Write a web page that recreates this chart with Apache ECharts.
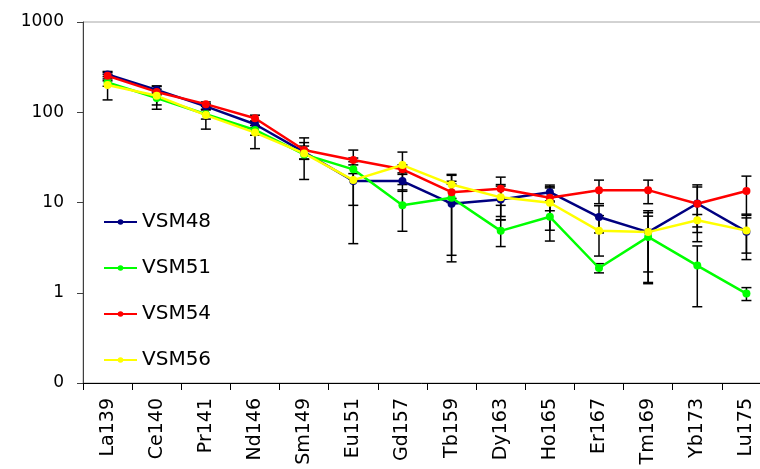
<!DOCTYPE html>
<html>
<head>
<meta charset="utf-8">
<script src="https://cdn.jsdelivr.net/npm/echarts@6/dist/echarts.min.js"></script>
<style>
  html, body { margin: 0; padding: 0; background: #fff; }
  #chart { width: 760px; height: 469px; }
</style>
</head>
<body>
<div id="chart"></div>
<script>
// Isotopes along the x axis
const categories = ['La139', 'Ce140', 'Pr141', 'Nd146', 'Sm149', 'Eu151', 'Gd157',
                    'Tb159', 'Dy163', 'Ho165', 'Er167', 'Tm169', 'Yb173', 'Lu175'];

// Mean values per sample
const vsm48 = [262, 177, 116, 73.6, 36.2, 17.3, 17.3, 9.7, 10.8, 13.0, 6.9, 4.7, 9.75, 4.75];
const vsm51 = [214, 144, 95, 63.6, 34.1, 23.3, 9.3, 11.3, 4.85, 6.94, 1.88, 4.16, 2.0, 0.98];
const vsm54 = [253, 168, 123, 85.8, 38.1, 29.5, 23.3, 13.0, 14.2, 11.3, 13.7, 13.7, 9.68, 13.4];
const vsm56 = [200, 152, 93, 59.5, 35.0, 17.7, 26.0, 15.8, 11.4, 9.93, 4.85, 4.7, 6.36, 4.88];

// Standard deviations (symmetric error bars)
const vsm48Err = [14, 16, 8, 6, 6, 13.8, 4, 7.5, 4.4, 2.6, 2.3, 3.4, 5.1, 2.0];
const vsm51Err = [20, 23.5, 11, 8, 4, 5, 4.5, 8.7, 1.6, 3.2, 0.22, 2.9, 1.3, 0.16];
const vsm54Err = [30, 12, 7, 7, 8, 8.6, 2.8, 3, 4.9, 3.2, 4, 4, 6.0, 6.2];
const vsm56Err = [63, 44, 28, 20, 17, 8.4, 10.2, 4.7, 4.4, 5, 2.3, 3.0, 1.0, 2.55];

// Value-axis tick labels (log scale 0.1 .. 1000)
const yTickLabels = { 0.1: '0', 1: '1', 10: '10', 100: '100', 1000: '1000' };

const sampleNames = ['VSM48', 'VSM51', 'VSM54', 'VSM56'];
const sampleValues = [vsm48, vsm51, vsm54, vsm56];
const sampleErrors = [vsm48Err, vsm51Err, vsm54Err, vsm56Err];
const sampleColors = ['#000080', '#00ff00', '#ff0000', '#ffff00'];

const FONT = 'DejaVu Sans';
const Y_MIN = 0.1;

function renderErrorBar(params, api) {
  const i = api.value(0);
  const v = api.value(1);
  const e = api.value(2);
  const hiVal = v + e;
  const loVal = v - e;
  const clamped = loVal <= Y_MIN;
  const hi = api.coord([i, hiVal]);
  const lo = api.coord([i, clamped ? Y_MIN : loVal]);
  const half = 5;
  const style = { stroke: '#000', lineWidth: 1.5 };
  const children = [
    { type: 'line', shape: { x1: hi[0], y1: hi[1], x2: lo[0], y2: lo[1] }, style: style },
    { type: 'line', shape: { x1: hi[0] - half, y1: hi[1], x2: hi[0] + half, y2: hi[1] }, style: style }
  ];
  if (!clamped) {
    children.push({ type: 'line', shape: { x1: lo[0] - half, y1: lo[1], x2: lo[0] + half, y2: lo[1] }, style: style });
  }
  return { type: 'group', children: children };
}

const series = [];
sampleNames.forEach(function (name, k) {
  series.push({
    name: name + ' SD',
    type: 'custom',
    z: 1,
    silent: true,
    renderItem: renderErrorBar,
    encode: { x: 0, y: 1 },
    data: categories.map(function (c, i) { return [i, sampleValues[k][i], sampleErrors[k][i]]; })
  });
});
sampleNames.forEach(function (name, k) {
  series.push({
    name: name,
    type: 'line',
    z: 3,
    symbol: 'circle',
    symbolSize: 8,
    showSymbol: true,
    animation: false,
    color: sampleColors[k],
    lineStyle: { width: 2.5, color: sampleColors[k] },
    itemStyle: { color: sampleColors[k] },
    data: sampleValues[k]
  });
});

const chart = echarts.init(document.getElementById('chart'), null, { renderer: 'canvas' });
chart.setOption({
  animation: false,
  backgroundColor: '#fff',
  grid: {
    left: 83, top: 22, width: 688, height: 361,
    outerBoundsMode: 'none',
    containLabel: false,
    show: true, borderColor: '#a6a6a6', borderWidth: 1, backgroundColor: 'transparent'
  },
  legend: {
    data: sampleNames,
    orient: 'vertical',
    left: 98,
    top: 206,
    itemWidth: 33,
    itemHeight: 7,
    itemGap: 24,
    selectedMode: false,
    textStyle: { fontFamily: FONT, fontSize: 20, color: '#000', lineHeight: 22 }
  },
  xAxis: {
    type: 'category',
    data: categories,
    boundaryGap: true,
    axisLine: { show: true, lineStyle: { color: '#000', width: 1 } },
    axisTick: { show: true, inside: false, length: 7, alignWithLabel: false, lineStyle: { color: '#000' } },
    axisLabel: {
      rotate: 90,
      margin: 15,
      interval: 0,
      fontFamily: FONT,
      fontSize: 19,
      color: '#000'
    },
    splitLine: { show: false }
  },
  yAxis: {
    type: 'log',
    logBase: 10,
    min: Y_MIN,
    max: 1000,
    axisLine: { show: true, lineStyle: { color: '#404040', width: 1 } },
    axisTick: { show: true, inside: false, length: 6, lineStyle: { color: '#404040' } },
    axisLabel: {
      margin: 19,
      fontFamily: FONT,
      fontSize: 17,
      color: '#000',
      formatter: function (v) {
        const key = Math.round(v * 10) / 10;
        return yTickLabels[key] !== undefined ? yTickLabels[key] : '';
      }
    },
    splitLine: { show: false },
    minorTick: { show: false }
  },
  series: series
});
</script>
</body>
</html>
